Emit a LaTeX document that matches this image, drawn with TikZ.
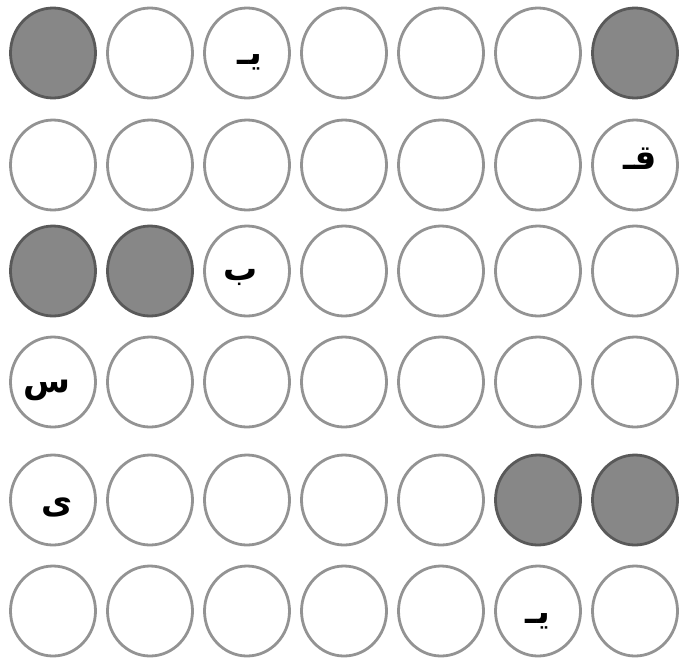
\documentclass[tikz,border=0pt]{standalone}
\usepackage{fontspec}
\usetikzlibrary{shapes.geometric,calc}
\newfontfamily\arabicfont[Script=Arabic]{DejaVu Sans}
\TeXXeTstate=1
\tikzset{
    cell/.style={ellipse, draw=gray!85, line width=2.8pt, fill=white,
        minimum width=85pt, minimum height=90pt, inner sep=0pt},
    dark/.style={fill=gray!95!black!90, draw=black!65},
    letter/.style={font=\arabicfont\bfseries\fontsize{34}{34}\selectfont, inner sep=0pt},
    % shaded cells
    filled 11/.style={dark}, filled 17/.style={dark},
    filled 31/.style={dark}, filled 32/.style={dark},
    filled 56/.style={dark}, filled 57/.style={dark}
}
\begin{document}
\begin{tikzpicture}[
    x=1pt,
    y=-1pt
]
\useasboundingbox (0,0) rectangle (679,662);

% Grid of circles
\foreach \row/\y in {1/53, 2/165, 3/271, 4/382, 5/500, 6/611} {
    \foreach \col in {1,...,7} {
        \node[cell, filled \row\col/.try] (c\row\col) at ({53+97*(\col-1)}, \y) {};
    }
}

% Letters
\node[letter] (l13) at ($(c13)+(3,9)$) {\beginR یـ\endR};
\node[letter] (l27) at ($(c27)+(5,-6)$) {\beginR قـ\endR};
\node[letter] (l33) at ($(c33)+(-6,6)$) {\beginR ب\endR};
\node[letter] (l41) at ($(c41)+(-6,8)$) {\beginR س\endR};
\node[letter] (l51) at ($(c51)+(4,7)$) {\beginR ی\endR};
\node[letter] (l66) at ($(c66)+(0,10)$) {\beginR یـ\endR};

\end{tikzpicture}
\end{document}
